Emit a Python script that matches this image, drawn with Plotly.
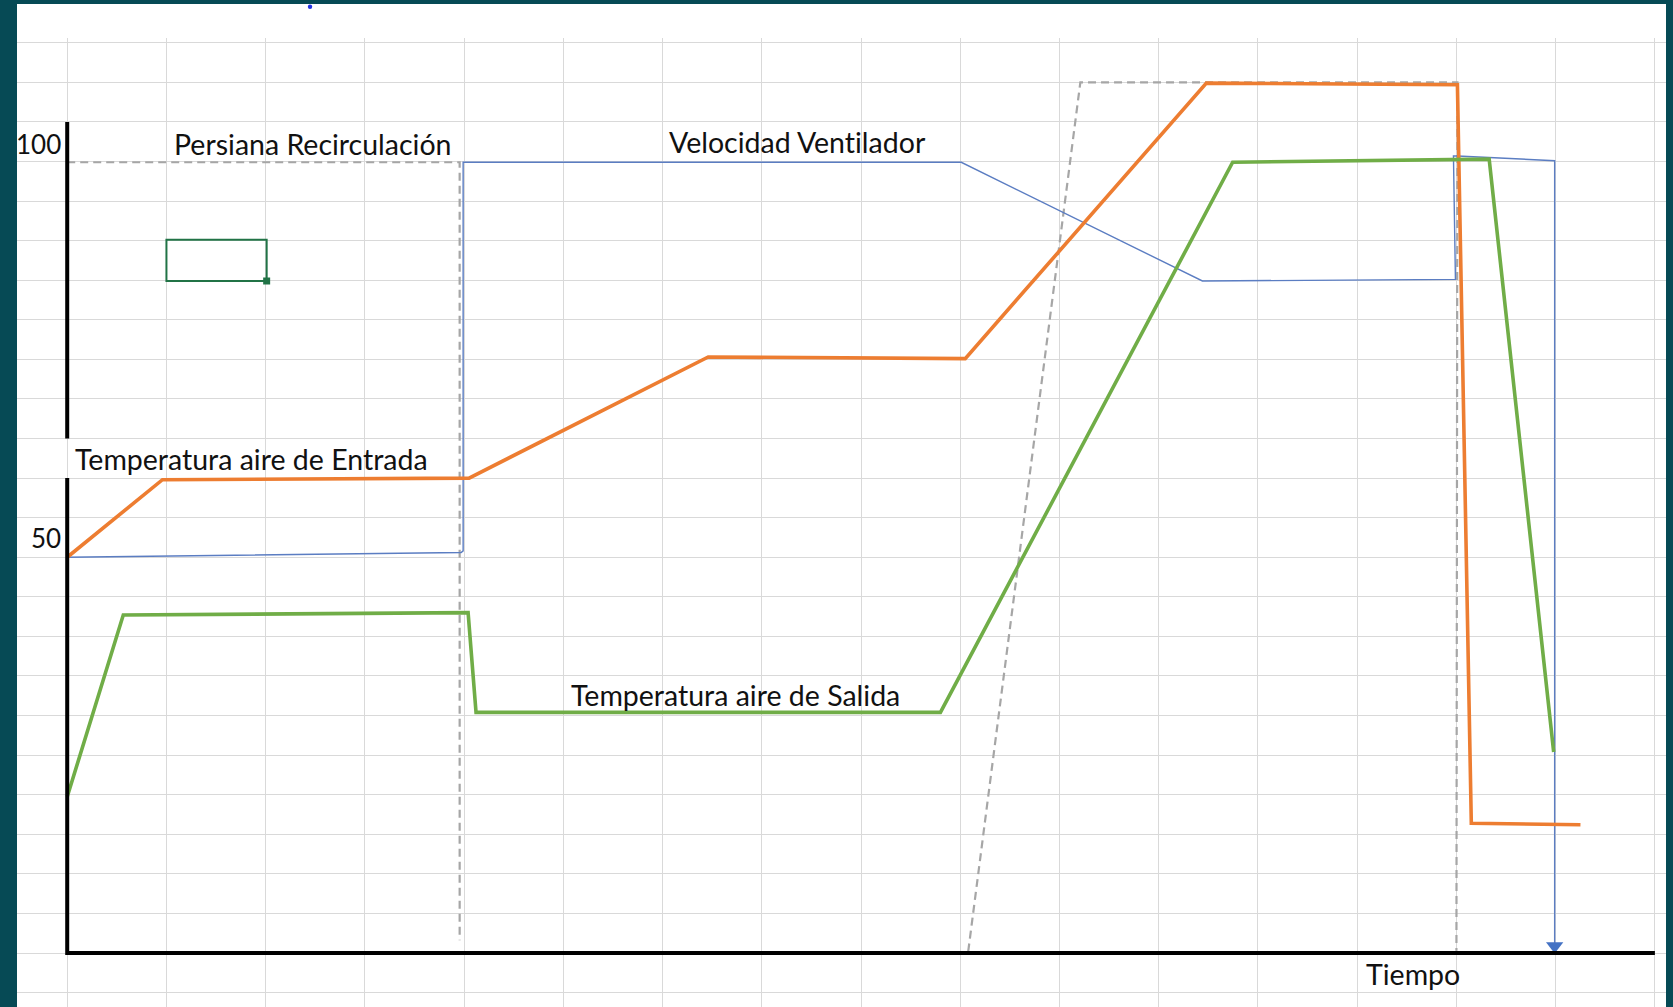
import plotly.graph_objects as go

# --- Series (time in grid columns, value in %) ---
entrada_t = [0, 0.96, 4.05, 6.46, 9.05, 11.48, 14.01, 14.15, 15.25]
entrada_v = [50.0, 59.8, 60.0, 75.3, 75.1, 109.9, 109.7, 16.4, 16.2]

salida_t = [0, 0.565, 4.04, 4.12, 8.80, 11.745, 14.33, 14.98]
salida_v = [19.75, 42.7, 43.0, 30.4, 30.4, 99.9, 100.3, 25.4]

ventilador_t = [0, 3.97, 3.99, 3.99, 9.01, 11.44, 13.99, 13.97, 14.01, 14.99, 14.99]
ventilador_v = [50.0, 50.6, 50.8, 99.9, 99.9, 84.9, 85.1, 100.7, 100.7, 100.1, 0.0]

persiana_a_t = [0, 3.955, 3.955]
persiana_a_v = [99.9, 99.9, 1.6]
persiana_b_t = [9.08, 10.21, 14.01, 14.00]
persiana_b_v = [0.2, 110.0, 110.0, 0.3]

# --- Axis frame ---
axis_x_end = 16.0
axis_y_top = 105.0
axis_gap = (60.0, 65.0)   # break in the value axis under the inlet label

# --- Value-axis tick labels ---
tick_text = ["100", "50"]
tick_y = [102.2, 52.45]
tick_x = -0.047

# --- Text labels (ZWNJ keeps "ti" from fusing into a ligature) ---
label_text = ["Persiana Recirculación", "Velocidad Vent\u200cilador",
              "Temperatura aire de Entrada", "Temperatura aire de Salida", "Tiempo"]
label_x = [1.06, 6.045, 0.055, 5.055, 13.07]
label_y = [102.2, 102.4, 62.4, 32.55, -2.7]

# selected cell outline
cell_x = (1.0, 2.01)
cell_y = (84.9, 90.1)

ORANGE = "#ED7D31"
GREEN = "#70AD47"
BLUE = "#5B7DC2"
GRAY = "#A6A6A6"
TEAL = "#064A55"
TEXT = "#111111"

fig = go.Figure()

for tx, vy in [(persiana_a_t, persiana_a_v), (persiana_b_t, persiana_b_v)]:
    fig.add_trace(go.Scatter(x=tx, y=vy, mode="lines",
                             line=dict(color=GRAY, width=2.2, dash="8px,5px"),
                             hoverinfo="skip"))

fig.add_trace(go.Scatter(x=ventilador_t, y=ventilador_v, mode="lines",
                         line=dict(color=BLUE, width=1.4), hoverinfo="skip"))
fig.add_trace(go.Scatter(x=entrada_t, y=entrada_v, mode="lines",
                         line=dict(color=ORANGE, width=3.6), hoverinfo="skip"))
fig.add_trace(go.Scatter(x=salida_t, y=salida_v, mode="lines",
                         line=dict(color=GREEN, width=3.6), hoverinfo="skip"))

# arrowhead at the end of the fan-speed line
fig.add_trace(go.Scatter(x=[ventilador_t[-1]], y=[ventilador_v[-1] + 0.9], mode="markers",
                         marker=dict(symbol="triangle-down", size=15, color="#4472C4",
                                     line=dict(width=0)),
                         hoverinfo="skip"))

# axes drawn as thick black lines
fig.add_trace(go.Scatter(x=[0, 0], y=[axis_y_top, axis_gap[1]], mode="lines",
                         line=dict(color="black", width=4), hoverinfo="skip"))
fig.add_trace(go.Scatter(x=[0, 0, axis_x_end], y=[axis_gap[0], 0, 0], mode="lines",
                         line=dict(color="black", width=4), hoverinfo="skip"))

for t, y in zip(tick_text, tick_y):
    fig.add_annotation(x=tick_x, y=y, text=t, showarrow=False, xanchor="right",
                       yanchor="middle", font=dict(family="Lato", size=26, color=TEXT))

for t, x, y in zip(label_text, label_x, label_y):
    fig.add_annotation(x=x, y=y, text=t, showarrow=False, xanchor="left", yanchor="middle",
                       font=dict(family="Lato", size=28.5, color=TEXT))

# white sheet strip above the plotting area, below the top border
fig.add_shape(type="rect", xref="paper", yref="paper", x0=0, x1=1, y0=1, y1=1 + 34 / 969,
              fillcolor="white", line=dict(width=0), layer="below")

# small blue dot near the top edge of the sheet
fig.add_shape(type="circle", xref="paper", yref="paper",
              x0=0.1777 - 2.2 / 1649, x1=0.1777 + 2.2 / 1649,
              y0=1.0323 - 2.2 / 969, y1=1.0323 + 2.2 / 969,
              fillcolor="#2030E0", line=dict(width=0), layer="above")

# selected cell
fig.add_shape(type="rect", x0=cell_x[0], x1=cell_x[1], y0=cell_y[0], y1=cell_y[1],
              line=dict(color="#217346", width=2), fillcolor="rgba(0,0,0,0)")
fig.add_trace(go.Scatter(x=[cell_x[1]], y=[cell_y[0]], mode="markers",
                         marker=dict(symbol="square", size=7, color="#217346"),
                         hoverinfo="skip"))

fig.update_layout(
    width=1673, height=1007,
    margin=dict(l=17, r=7, t=38, b=0),
    paper_bgcolor=TEAL, plot_bgcolor="white",
    showlegend=False,
    xaxis=dict(range=[-0.506, 16.112], dtick=1, tick0=0, showgrid=True,
               gridcolor="#D9D9D9", gridwidth=1, zeroline=False,
               showticklabels=False, ticks="", showline=False, fixedrange=True),
    yaxis=dict(range=[-6.82, 115.6], dtick=5, tick0=0, showgrid=True,
               gridcolor="#D9D9D9", gridwidth=1, zeroline=False,
               showticklabels=False, ticks="", showline=False, fixedrange=True),
)

fig.write_html("out.html")
